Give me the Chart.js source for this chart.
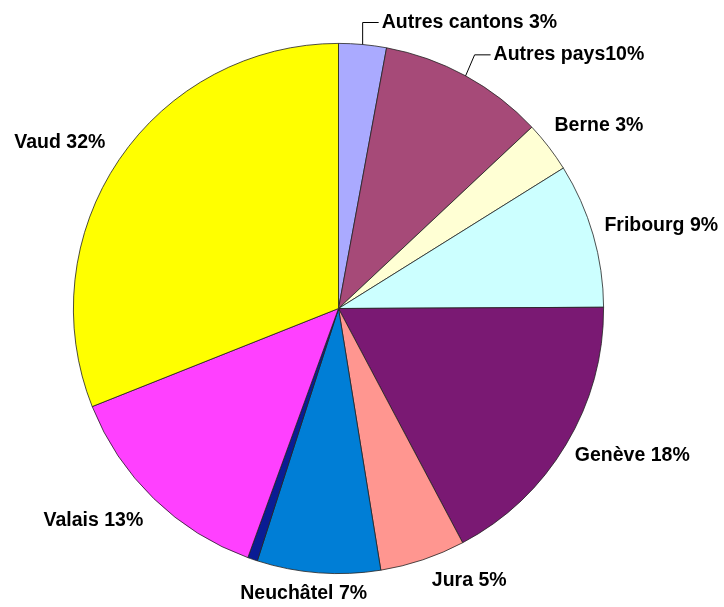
<!DOCTYPE html>
<html>
<head>
<meta charset="utf-8">
<script src="https://cdn.jsdelivr.net/npm/chart.js@4/dist/chart.umd.min.js"></script>
<style>
  html, body { margin: 0; padding: 0; background: #fff; }
  #wrap { width: 724px; height: 607px; }
</style>
</head>
<body>
<div id="wrap"><canvas id="pie" width="724" height="607"></canvas></div>
<script>
// Répartition par provenance (lecture du graphique, en %)
const categories = ['Autres cantons', 'Autres pays', 'Berne', 'Fribourg', 'Genève',
                    'Jura', 'Neuchâtel', 'Non précisé', 'Valais', 'Vaud'];
const values = [2.9, 10.1, 3.1, 8.8, 17.3, 5.2, 7.5, 0.6, 13.4, 31.0];
const labels = ['Autres cantons 3%', 'Autres pays10%', 'Berne 3%', 'Fribourg 9%', 'Genève 18%',
                'Jura 5%', 'Neuchâtel 7%', '', 'Valais 13%', 'Vaud 32%'];
const colors = ['#AAAAFF', '#A64A78', '#FFFFD4', '#CCFFFF', '#7A1973',
                '#FF9690', '#007ED6', '#0A1C94', '#FF40FF', '#FFFF00'];

// label placement tweaks (leader elbows and small nudges)
const leaders = [[0, -22], [9, -21], null, null, null, null, null, null, null, null];
const nudges = [[0, 0], [0, 0], [4, -7], [0, -3], [5, -1], [30, -2], [-9, -3], [0, 0], [-16, 5], [-10, -4]];

const labelPlugin = {
    id: 'pieLabels',
    afterDatasetsDraw(chart) {
        const ctx = chart.ctx;
        const arcs = chart.getDatasetMeta(0).data;
        ctx.save();
        ctx.font = 'bold 19.5px "Liberation Sans", Arial, sans-serif';
        ctx.fillStyle = '#000';
        ctx.strokeStyle = '#000';
        ctx.lineWidth = 1;
        ctx.textBaseline = 'middle';
        arcs.forEach((arc, i) => {
            const text = labels[i];
            if (!text) return;
            const mid = (arc.startAngle + arc.endAngle) / 2;
            const r = arc.outerRadius;
            const cos = Math.cos(mid), sin = Math.sin(mid);
            const ex = arc.x + cos * r, ey = arc.y + sin * r;
            const w = ctx.measureText(text).width;
            if (leaders[i]) {
                const bx = ex + leaders[i][0], by = ey + leaders[i][1];
                ctx.beginPath();
                ctx.moveTo(ex, ey);
                ctx.lineTo(bx, by);
                ctx.lineTo(bx + 16, by);
                ctx.stroke();
                ctx.textAlign = 'left';
                ctx.fillText(text, bx + 19, by);
            } else {
                const px = arc.x + cos * (r + 14), py = arc.y + sin * (r + 14);
                ctx.textAlign = 'center';
                ctx.fillText(text, px + cos * w / 2 + nudges[i][0], py + sin * 10 + nudges[i][1]);
            }
        });
        ctx.restore();
    }
};

new Chart(document.getElementById('pie'), {
    type: 'pie',
    data: {
        labels: categories,
        datasets: [{
            data: values,
            backgroundColor: colors,
            borderColor: '#222',
            borderWidth: 0.8
        }]
    },
    options: {
        responsive: false,
        animation: false,
        layout: { padding: { left: 73, top: 43, right: 120, bottom: 33 } },
        plugins: {
            legend: { display: false },
            tooltip: { enabled: false }
        }
    },
    plugins: [labelPlugin]
});
</script>
</body>
</html>
